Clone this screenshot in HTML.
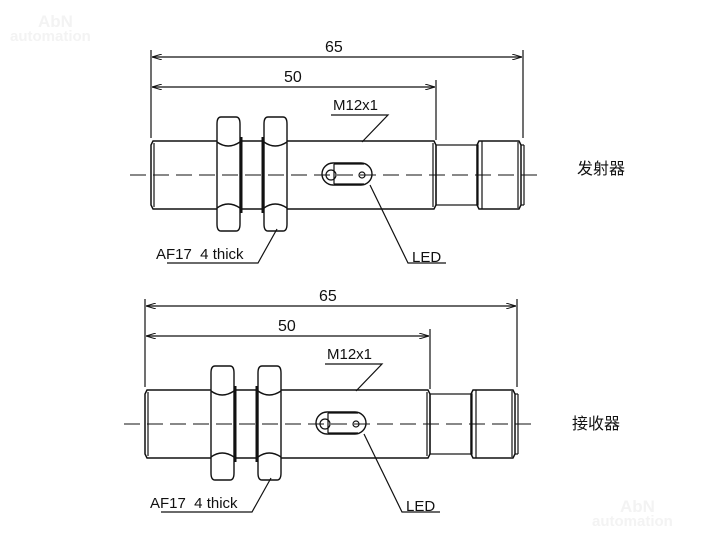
<!DOCTYPE html>
<html><head><meta charset="utf-8"><style>
html,body{margin:0;padding:0;background:#fff;}
svg{display:block}
text{font-family:"Liberation Sans","Noto Sans CJK SC",sans-serif;fill:#111}
</style></head><body>
<svg width="705" height="537" viewBox="0 0 705 537" xmlns="http://www.w3.org/2000/svg">
<defs>
<marker id="a" viewBox="0 0 10 6" refX="10" refY="3" markerWidth="10" markerHeight="6" orient="auto-start-reverse" markerUnits="userSpaceOnUse"><path d="M0,0 L10,3 L0,6" fill="none" stroke="#111" stroke-width="1"/></marker>
</defs>
<text x="38" y="27" font-size="17" font-weight="bold" style="fill:#f3f3f3">AbN</text>
<text x="10" y="41" font-size="15" font-weight="bold" style="fill:#f3f3f3">automation</text>
<text x="620" y="512" font-size="17" font-weight="bold" style="fill:#f3f3f3">AbN</text>
<text x="592" y="526" font-size="15" font-weight="bold" style="fill:#f3f3f3">automation</text>

<g id="d" stroke="#111" fill="none" stroke-width="1.2">
 <line x1="151" y1="50" x2="151" y2="138"/>
 <line x1="523" y1="50" x2="523" y2="138"/>
 <line x1="436" y1="80" x2="436" y2="140"/>
 <line x1="152" y1="57" x2="522" y2="57" marker-start="url(#a)" marker-end="url(#a)"/>
 <line x1="152" y1="87" x2="435" y2="87" marker-start="url(#a)" marker-end="url(#a)"/>
 <path d="M153,141 L434,141 L436,145 L436,205 L434,209 L153,209 L151,205 L151,145 Z" stroke-width="1.5"/>
 <line x1="154" y1="143" x2="154" y2="207"/>
 <line x1="433" y1="143" x2="433" y2="207"/>
 <rect x="436" y="145" width="42" height="60"/>
 <path d="M479,141 L519,141 L521,145 L521,205 L519,209 L479,209 L477,205 L477,145 Z" stroke-width="1.5"/>
 <line x1="482" y1="141" x2="482" y2="209"/>
 <line x1="518" y1="142" x2="518" y2="208"/>
 <line x1="521" y1="145" x2="524" y2="145"/><line x1="524" y1="145" x2="524" y2="205"/><line x1="521" y1="205" x2="524" y2="205"/>
 <g fill="#fff" stroke-width="1.4">
  <path d="M221,117 L236,117 Q240,117 240,124 L240,224 Q240,231 236,231 L221,231 Q217,231 217,224 L217,124 Q217,117 221,117 Z"/>
  <path d="M217,142 Q228,150 240,142 M217,208 Q228,200 240,208"/>
  <path d="M268,117 L283,117 Q287,117 287,124 L287,224 Q287,231 283,231 L268,231 Q264,231 264,224 L264,124 Q264,117 268,117 Z"/>
  <path d="M264,142 Q275,150 287,142 M264,208 Q275,200 287,208"/>
 </g>
 <rect x="240" y="137" width="2.5" height="76" fill="#111" stroke="none"/>
 <rect x="261.5" y="137" width="2.5" height="76" fill="#111" stroke="none"/>
 <rect x="322" y="163" width="50" height="22" rx="11" stroke-width="1.4"/>
 <line x1="334" y1="164" x2="334" y2="184"/>
 <line x1="334" y1="164" x2="364" y2="164"/><line x1="334" y1="184" x2="364" y2="184"/>
 <circle cx="331" cy="175" r="5"/><circle cx="362" cy="175" r="3"/>
 <line x1="130" y1="175" x2="542" y2="175" stroke-dasharray="16,7" stroke-width="1"/>
 <polyline points="331,115 388,115 362,142"/>
 <polyline points="167,263 258,263 277,229"/>
 <polyline points="370,185 408,263 446,263"/>
 <g stroke="none">
  <text x="333" y="110" font-size="15">M12x1</text>
  <text x="325" y="52" font-size="16">65</text>
  <text x="284" y="82" font-size="16">50</text>
  <text x="156" y="259" font-size="15">AF17&#160;&#160;4 thick</text>
  <text x="412" y="262" font-size="15">LED</text>
 </g>
</g>
<use href="#d" transform="translate(-6,249)"/>
<text x="577" y="174" font-size="16">发射器</text>
<text x="572" y="429" font-size="16">接收器</text>
</svg>
</body></html>
